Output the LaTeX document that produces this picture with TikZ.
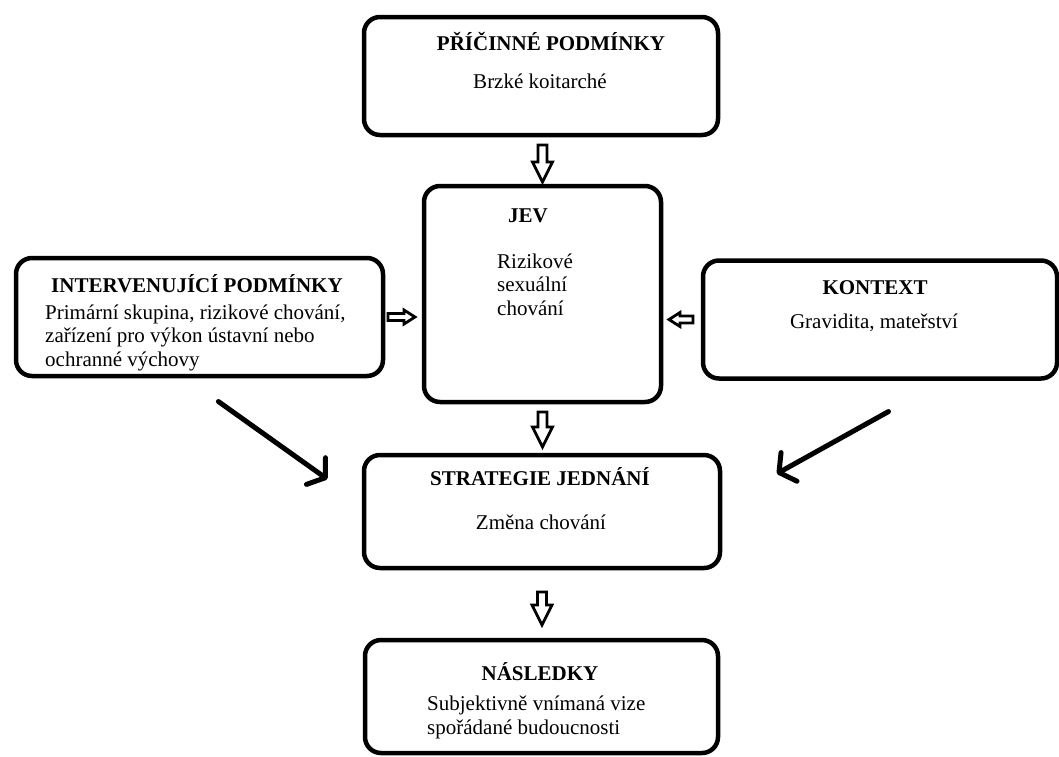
\documentclass[tikz,border=0pt]{standalone}
\usepackage{fontspec}
\setmainfont{Liberation Serif}
\usetikzlibrary{calc,arrows.meta}

\begin{document}
\begin{tikzpicture}[x=1pt, y=-1pt,
	box/.style={draw, line width=4.5pt, rounded corners=16pt, inner sep=0pt, outer sep=0pt},
	txt/.style={font=\fontsize{21}{23.5}\selectfont, inner sep=0pt, anchor=base, align=left},
	head/.style={txt, font=\fontsize{21}{23.5}\selectfont\bfseries},
	hollow/.style n args={5}{line width=2.8pt, line join=miter, to path={
		($(\tikztostart)!#1!(\tikztotarget)$) coordinate (bt)
		($(\tikztotarget)!#2!(\tikztostart)$) coordinate (bh)
		($(bh)!#5!(bt)$) coordinate (bb)
		($(bt)!#3!90:(bh)$) -- ($(bb)!#3!90:(bh)$) -- ($(bb)!#4!90:(bh)$) -- (bh)
		-- ($(bb)!#4!-90:(bh)$) -- ($(bb)!#3!-90:(bh)$) -- ($(bt)!#3!-90:(bh)$) -- cycle}},
	long/.style={line width=5pt, line cap=round, -{Straight Barb[angle=110:20pt, round]}}]
	\useasboundingbox (0,0) rectangle (1059,756);
	\node[box, minimum width=354pt, minimum height=118pt] (top) at (541,76) {};
	\node[box, minimum width=237pt, minimum height=216pt] (jev) at (542.5,294) {};
	\node[box, minimum width=367pt, minimum height=118pt] (interv) at (199.5,317) {};
	\node[box, minimum width=354pt, minimum height=118pt] (kontext) at (880,319.5) {};
	\node[box, minimum width=356pt, minimum height=113pt] (strat) at (542,511.5) {};
	\node[box, minimum width=353pt, minimum height=113pt] (nasl) at (541.5,696.5) {};
	\node[head] (topt) at (551,50) {PŘÍČINNÉ PODMÍNKY};
	\node[txt] (topb) at (540,88) {Brzké koitarché};
	\node[head] (jevt) at (528,222) {JEV};
	\node[txt, anchor=base west] (jevb) at (497,315) {Rizikové\\sexuální\\chování};
	\node[head] (intt) at (197,292) {INTERVENUJÍCÍ PODMÍNKY};
	\node[txt, anchor=base west] (intb) at (45,366) {Primární skupina, rizikové chování,\\zařízení pro výkon ústavní nebo\\ochranné výchovy};
	\node[head] (kont) at (875,294) {KONTEXT};
	\node[txt] (konb) at (874,328) {Gravidita, mateřství};
	\node[head] (strt) at (540,485) {STRATEGIE JEDNÁNÍ};
	\node[txt] (strb) at (541,529) {Změna chování};
	\node[head] (nast) at (540,680) {NÁSLEDKY};
	\node[txt, anchor=base west] (nasb) at (427,734) {Subjektivně vnímaná vize\\spořádané budoucnosti};
	\draw[hollow={10pt}{4pt}{4.5pt}{10pt}{20pt}] (jev.north |- top.south) to (jev.north);
	\draw[hollow={5pt}{9pt}{3.5pt}{7pt}{11pt}] (interv.east) to (interv.east -| jev.west);
	\draw[hollow={10pt}{8pt}{3.5pt}{7pt}{11pt}] (kontext.west) to (kontext.west -| jev.east);
	\draw[hollow={10pt}{8pt}{4.5pt}{10pt}{20pt}] (jev.south) to (jev.south |- strat.north);
	\draw[hollow={24pt}{15pt}{4.5pt}{10pt}{20pt}] (strat.south) to (strat.south |- nasl.north);
	\draw[long, shorten <=44pt, shorten >=45pt] (interv.-106.8) -- (strat.178.4);
	\draw[long, shorten <=68pt, shorten >=65pt] (kontext.-41.2) -- (strat.2.3);
\end{tikzpicture}
\end{document}
